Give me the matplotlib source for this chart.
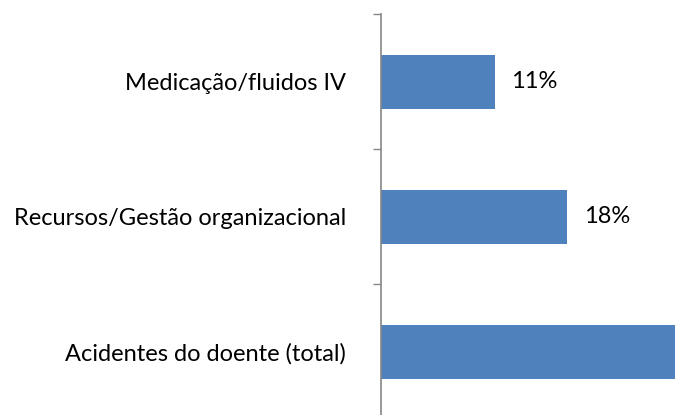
import matplotlib
matplotlib.use('Agg')
import matplotlib.pyplot as plt
from matplotlib.ticker import FixedLocator

# data (top to bottom)
categories = ['Medicação/fluidos IV', 'Recursos/Gestão organizacional', 'Acidentes do doente (total)']
values = [11, 18, 71]
value_labels = ['11%', '18%', '71%']

bar_col = '#4F81BD'
axis_col = '#868686'
fsize = 17

plt.rcParams['font.family'] = ['Lato', 'DejaVu Sans']

fig = plt.figure(figsize=(6.75, 4.15), dpi=100)
# axis line sits at x~381 px, ticks from y~14 px down past the bottom edge
ax = fig.add_axes([381/675, -4/415, 310/675, 405/415])

pos = list(range(len(categories)))
bars = ax.barh(pos, values, height=0.4, color=bar_col)
ax.set_ylim(len(categories) - 0.5, -0.5)
ax.set_xlim(0, 30)

ax.bar_label(bars, labels=value_labels, padding=12, fontsize=fsize, color='black')

# tick marks between categories, labels at category centres
ax.yaxis.set_major_locator(FixedLocator([p - 0.5 for p in pos] + [pos[-1] + 0.5]))
ax.yaxis.set_major_formatter(plt.NullFormatter())
ax.yaxis.set_minor_locator(FixedLocator(pos))
ax.set_yticklabels(categories, minor=True, fontsize=fsize)
ax.tick_params(axis='y', which='major', length=6, width=1, color=axis_col, direction='out')
ax.tick_params(axis='y', which='minor', length=0, pad=25)

ax.set_xticks([])
for s in ['top', 'right', 'bottom']:
    ax.spines[s].set_visible(False)
ax.spines['left'].set_color(axis_col)
ax.spines['left'].set_linewidth(1.2)

plt.savefig('out.png', dpi=100)
